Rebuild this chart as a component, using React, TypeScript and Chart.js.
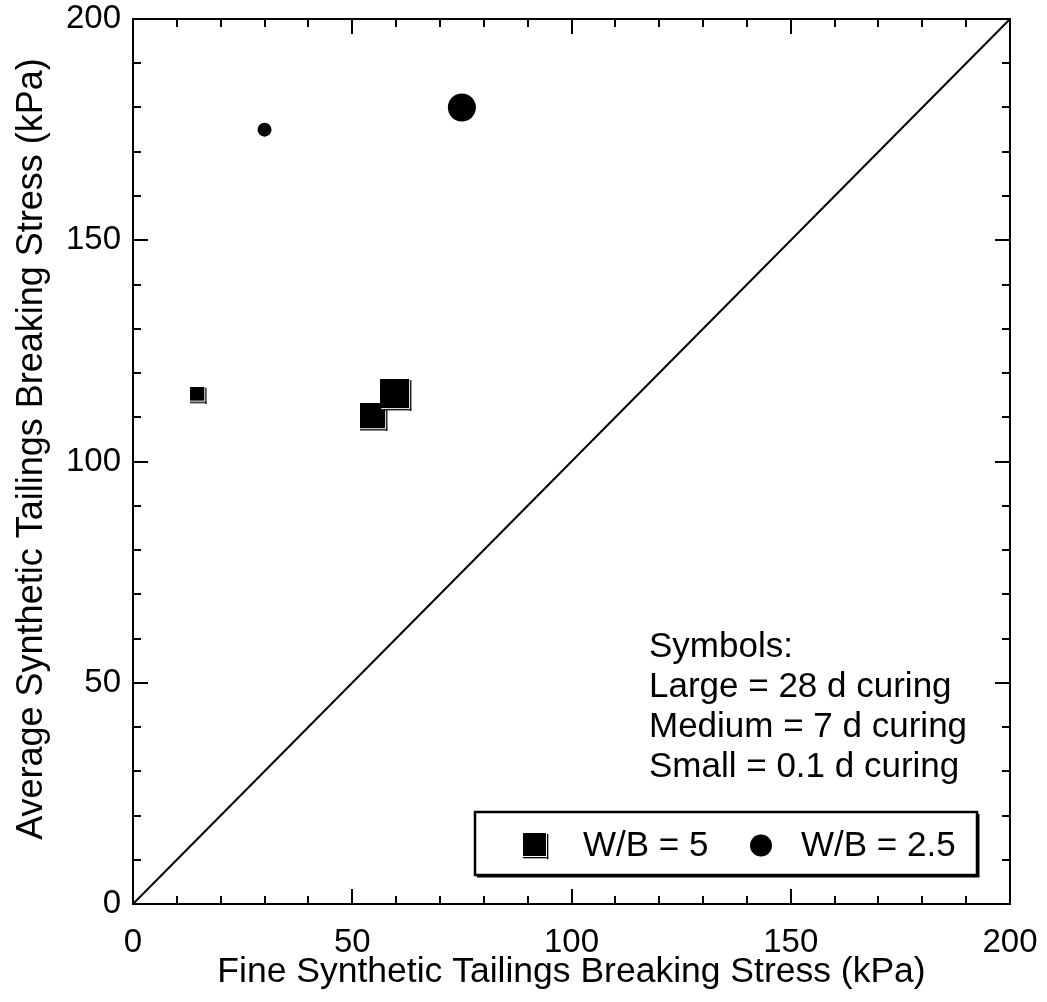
import React, { useEffect, useRef } from 'react';
import { Chart, registerables } from 'chart.js';

Chart.register(...registerables);

// ---- data ----
const majorTicks = [0, 50, 100, 150, 200];
const minorTicks = [10, 20, 30, 40, 60, 70, 80, 90, 110, 120, 130, 140, 160, 170, 180, 190];

const wb5Fine = [15, 55, 60];
const wb5Avg = [115, 110, 115];
const wb5Curing = [0.1, 7, 28];

const wb25Fine = [30, 75];
const wb25Avg = [175, 180];
const wb25Curing = [0.1, 28];

const equalityLine = [0, 200];

const legendLabels = ['W/B = 5', 'W/B = 2.5'];
const noteLines = ['Symbols:', 'Large = 28 d curing', 'Medium = 7 d curing', 'Small = 0.1 d curing'];
const xTitle = 'Fine Synthetic Tailings Breaking Stress (kPa)';
const yTitle = 'Average Synthetic Tailings Breaking Stress (kPa)';

const FONT = "'Liberation Sans', Arial, sans-serif";

function markerSide(curing: number): number {
  if (curing >= 28) return 29;
  if (curing >= 7) return 25;
  return 14;
}

function drawShadowSquare(ctx: CanvasRenderingContext2D, x: number, y: number, s: number) {
  ctx.fillStyle = '#000';
  ctx.fillRect(x, y, s, s);
  ctx.fillStyle = '#fff';
  ctx.fillRect(x + s, y + 1, 1, s + 1);
  ctx.fillRect(x + 1, y + s, s + 1, 1);
  ctx.fillStyle = '#000';
  ctx.fillRect(x + s + 1, y + 1, 1.3, s + 2.3);
  ctx.fillRect(x, y + s + 1, s + 2.3, 1.3);
}

function squareImage(s: number): HTMLCanvasElement {
  const c = document.createElement('canvas');
  const size = Math.ceil(s + 3);
  c.width = size;
  c.height = size;
  const g = c.getContext('2d')!;
  drawShadowSquare(g, 0, 0, s);
  return c;
}

const framePlugin = {
  id: 'framePlugin',
  afterDraw(chart: any) {
    const { ctx, chartArea } = chart;
    const xs = chart.scales.x;
    const ys = chart.scales.y;
    const { left, right, top, bottom } = chartArea;
    ctx.save();
    ctx.strokeStyle = '#000';
    ctx.lineWidth = 2;
    ctx.lineCap = 'butt';
    ctx.strokeRect(left, top, right - left, bottom - top);
    const drawTicks = (vals: number[], len: number) => {
      ctx.beginPath();
      for (const v of vals) {
        const px = Math.round(xs.getPixelForValue(v));
        ctx.moveTo(px, bottom);
        ctx.lineTo(px, bottom - len);
        ctx.moveTo(px, top);
        ctx.lineTo(px, top + len);
        const py = Math.round(ys.getPixelForValue(v));
        ctx.moveTo(left, py);
        ctx.lineTo(left + len, py);
        ctx.moveTo(right, py);
        ctx.lineTo(right - len, py);
      }
      ctx.stroke();
    };
    drawTicks(majorTicks, 15);
    drawTicks(minorTicks, 8);

    // y title
    ctx.fillStyle = '#000';
    ctx.save();
    ctx.translate(32, 449);
    ctx.rotate(-Math.PI / 2);
    ctx.font = `36px ${FONT}`;
    ctx.textAlign = 'center';
    ctx.textBaseline = 'middle';
    ctx.fillText(yTitle, 0, 0);
    ctx.restore();

    // notes
    ctx.fillStyle = '#000';
    ctx.font = `35px ${FONT}`;
    ctx.textAlign = 'left';
    ctx.textBaseline = 'alphabetic';
    const noteX = right - 361;
    const lastBase = bottom - 127;
    noteLines.forEach((t, i) => {
      ctx.fillText(t, noteX, lastBase - (noteLines.length - 1 - i) * 40);
    });

    // legend box
    const bx1 = right - 33;
    const bx0 = left + 342;
    const by1 = bottom - 29;
    const by0 = by1 - 63;
    ctx.fillStyle = '#fff';
    ctx.fillRect(bx0, by0, bx1 - bx0, by1 - by0);
    ctx.lineWidth = 2.5;
    ctx.strokeStyle = '#000';
    ctx.strokeRect(bx0, by0, bx1 - bx0, by1 - by0);
    ctx.lineWidth = 2;
    ctx.beginPath();
    ctx.moveTo(bx1 + 1.5, by0 + 2);
    ctx.lineTo(bx1 + 1.5, by1 + 1.5);
    ctx.lineTo(bx0 + 2, by1 + 1.5);
    ctx.stroke();
    const cy = (by0 + by1) / 2 + 2;
    drawShadowSquare(ctx, bx0 + 48, cy - 12.5, 23);
    ctx.fillStyle = '#000';
    ctx.beginPath();
    ctx.arc(bx0 + 286, cy, 11, 0, Math.PI * 2);
    ctx.fill();
    ctx.font = `35px ${FONT}`;
    ctx.textBaseline = 'middle';
    ctx.fillText(legendLabels[0], bx0 + 108, cy + 1);
    ctx.fillText(legendLabels[1], bx0 + 326, cy + 1);
    ctx.restore();
  },
};

export default function App() {
  const ref = useRef<HTMLCanvasElement | null>(null);
  useEffect(() => {
    if (!ref.current) return;
    const chart = new Chart(ref.current, {
      type: 'scatter',
      data: {
        datasets: [
          {
            type: 'line',
            data: equalityLine.map((v) => ({ x: v, y: v })),
            borderColor: '#000',
            borderWidth: 2,
            pointRadius: 0,
            fill: false,
          } as any,
          {
            data: wb5Fine.map((x, i) => ({ x, y: wb5Avg[i] })),
            pointStyle: wb5Curing.map((c) => squareImage(markerSide(c))),
            pointRadius: wb5Curing.map((c) => markerSide(c) / 2),
            backgroundColor: '#000',
            borderColor: '#000',
            borderWidth: 0,
          } as any,
          {
            data: wb25Fine.map((x, i) => ({ x, y: wb25Avg[i] })),
            pointStyle: 'circle',
            pointRadius: wb25Curing.map((c) => (c >= 28 ? 14 : 7)),
            backgroundColor: '#000',
            borderColor: '#000',
            borderWidth: 0,
          },
        ],
      },
      options: {
        responsive: false,
        animation: false,
        layout: { padding: { top: 19, right: 37, left: 0, bottom: 0 } },
        plugins: { legend: { display: false }, tooltip: { enabled: false } },
        scales: {
          x: {
            type: 'linear',
            min: 0,
            max: 200,
            grid: { display: false, drawTicks: false },
            border: { display: false },
            ticks: {
              stepSize: 50,
              padding: 22,
              color: '#000',
              font: { family: FONT, size: 33, lineHeight: 1 },
              maxRotation: 0,
            },
            title: {
              display: true,
              text: xTitle,
              color: '#000',
              font: { family: FONT, size: 35.5, lineHeight: 1.2 },
              padding: { top: 0, bottom: 8 },
            },
            afterFit: (s: any) => {
              s.height = 98;
              s.paddingLeft = 0;
              s.paddingRight = 0;
              s.paddingTop = 0;
              s.paddingBottom = 0;
            },
          },
          y: {
            type: 'linear',
            min: 0,
            max: 200,
            grid: { display: false, drawTicks: false },
            border: { display: false },
            ticks: {
              stepSize: 50,
              padding: 12,
              color: '#000',
              font: { family: FONT, size: 33, lineHeight: 1 },
            },
            title: { display: false },
            afterFit: (s: any) => {
              s.width = 133;
              s.paddingLeft = 0;
              s.paddingRight = 0;
              s.paddingTop = 0;
              s.paddingBottom = 0;
            },
          },
        },
      },
      plugins: [framePlugin],
    });
    return () => chart.destroy();
  }, []);
  return (
    <div style={{ position: 'fixed', left: 0, top: 0, width: 1047, height: 1002, background: '#fff' }}>
      <canvas ref={ref} width={1047} height={1002} style={{ width: 1047, height: 1002 }} />
    </div>
  );
}
